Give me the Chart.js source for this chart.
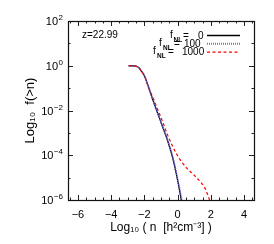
<!DOCTYPE html>
<html>
<head>
<meta charset="utf-8">
<script src="https://cdn.jsdelivr.net/npm/chart.js@4.4.1/dist/chart.umd.min.js"></script>
<style>
html,body{margin:0;padding:0;background:#fff;}
canvas{display:block;}
</style>
</head>
<body>
<canvas id="c" width="274" height="244"></canvas>
<script>
// log10(n) values and log10 f(>n) values
const xF0 = [-2.95, -2.7, -2.5, -2.35, -2.2, -2.0, -1.8, -1.5, -1.2, -0.9, -0.6, -0.3, -0.1, 0.05, 0.15, 0.22];
const yF0 = [0, 0, -0.02, -0.08, -0.22, -0.45, -0.85, -1.51, -2.12, -2.74, -3.35, -4.1, -4.75, -5.3, -5.7, -6.0];
const xF100 = [-2.95, -2.7, -2.5, -2.35, -2.2, -2.0, -1.8, -1.5, -1.2, -0.9, -0.6, -0.3, -0.1, 0.05, 0.15, 0.26];
const yF100 = [0, 0, -0.02, -0.08, -0.22, -0.45, -0.85, -1.5, -2.1, -2.72, -3.32, -4.05, -4.68, -5.22, -5.58, -6.0];
const xF1000 = [-2.95, -2.7, -2.5, -2.35, -2.2, -2.0, -1.8, -1.5, -1.2, -0.9, -0.6, -0.3, 0.0, 0.3, 0.6, 0.9, 1.2, 1.5, 1.7, 1.85, 1.95];
const yF1000 = [0, 0, -0.02, -0.08, -0.22, -0.45, -0.85, -1.4, -1.95, -2.5, -3.1, -3.6, -4.02, -4.35, -4.62, -4.82, -5.05, -5.3, -5.55, -5.85, -6.05];
const seriesNames = ['0', '100', '1000'];
const xMajorTicks = [-6, -4, -2, 0, 2, 4];
const yMajorTicks = [-6, -4, -2, 0, 2];
const redshiftLabel = 'z=22.99';

function pts(xs, ys){ return xs.map((x,i)=>({x:x, y:ys[i]})); }

const FONT = '"Liberation Sans", Arial, Helvetica, sans-serif';
// legend text offsets (from right edge of plot): f, NL, '=', number
const LEG_POS = [[84, 80.5, 71, 56], [95, 91, 80, 70], [101, 97, 86, 72]];

const decor = {
  id: 'decor',
  afterDatasetsDraw(chart){
    const ctx = chart.ctx, a = chart.chartArea;
    const xs = chart.scales.x, ys = chart.scales.y;
    ctx.save();
    ctx.strokeStyle = '#222';
    ctx.lineWidth = 1;
    // ticks inward on all sides
    for (let v = -6.5; v <= 4.5001; v += 0.5) {
      const px = Math.round(xs.getPixelForValue(v)) + 0.5;
      if (px < a.left || px > a.right) continue;
      const major = Math.abs(v / 2 - Math.round(v / 2)) < 1e-6;
      const len = major ? 5 : 2.5;
      ctx.beginPath();
      ctx.moveTo(px, a.bottom); ctx.lineTo(px, a.bottom - len);
      ctx.moveTo(px, a.top); ctx.lineTo(px, a.top + len);
      ctx.stroke();
    }
    for (let v = -6; v <= 2; v += 1) {
      const py = Math.round(ys.getPixelForValue(v)) + 0.5;
      const major = v % 2 === 0;
      const len = major ? 5 : 2.5;
      ctx.beginPath();
      ctx.moveTo(a.left, py); ctx.lineTo(a.left + len, py);
      ctx.moveTo(a.right, py); ctx.lineTo(a.right - len, py);
      ctx.stroke();
    }
    // frame
    ctx.lineWidth = 1.2;
    ctx.strokeStyle = '#111';
    ctx.strokeRect(Math.round(a.left) + 0.5, Math.round(a.top) + 0.5, Math.round(a.right - a.left), Math.round(a.bottom - a.top));
    // y tick labels with superscripts
    ctx.fillStyle = '#000';
    ctx.textBaseline = 'alphabetic';
    yMajorTicks.forEach(v => {
      const py = ys.getPixelForValue(v);
      const exp = (v < 0 ? '\u2212' : '') + Math.abs(v);
      ctx.font = '8px ' + FONT;
      const ew = ctx.measureText(exp).width;
      ctx.textAlign = 'right';
      const rx = a.left - 5;
      ctx.fillText(exp, rx, py - 1);
      ctx.font = '11px ' + FONT;
      ctx.fillText('10', rx - ew - 0.5, py + 4);
    });
    // redshift label
    ctx.font = '10px ' + FONT;
    ctx.textAlign = 'left';
    ctx.fillText(redshiftLabel, a.left + 14, a.top + 17);
    // legend
    const styles = chart.data.datasets;
    seriesNames.forEach((nm, i) => {
      const cy = a.top + 14 + i * 8.3;
      const p = LEG_POS[i];
      ctx.textAlign = 'left';
      ctx.font = '10px ' + FONT;
      ctx.fillText('f', a.right - p[0], cy + 2.5);
      ctx.fillText('=', a.right - p[2], cy + 3.5);
      ctx.fillText(nm, a.right - p[3], cy + 3.5);
      ctx.font = 'bold 6.5px ' + FONT;
      ctx.fillText('NL', a.right - p[1], cy + 6.5);
      const ds = styles[i];
      ctx.beginPath();
      ctx.strokeStyle = ds.borderColor;
      ctx.lineWidth = i === 1 ? 2 : ds.borderWidth;
      ctx.setLineDash(ds.borderDash || []);
      ctx.moveTo(a.right - 47, cy + 0.5);
      ctx.lineTo(a.right - 14, cy + 0.5);
      ctx.stroke();
      ctx.setLineDash([]);
    });
    ctx.restore();
  }
};

new Chart(document.getElementById('c'), {
  type: 'line',
  data: {
    datasets: [
      { label: 'fNL = ' + seriesNames[0], data: pts(xF0, yF0), borderColor: '#000', borderWidth: 1.3, pointRadius: 0, fill: false, cubicInterpolationMode: 'monotone', order: 3 },
      { label: 'fNL = ' + seriesNames[1], data: pts(xF100, yF100), borderColor: 'rgb(110,110,255)', borderWidth: 1.5, borderDash: [1, 1], pointRadius: 0, fill: false, cubicInterpolationMode: 'monotone', order: 2 },
      { label: 'fNL = ' + seriesNames[2], data: pts(xF1000, yF1000), borderColor: 'rgb(255,0,0)', borderWidth: 1.2, borderDash: [3, 2.5], pointRadius: 0, fill: false, cubicInterpolationMode: 'monotone', order: 1 }
    ]
  },
  options: {
    responsive: false,
    animation: false,
    devicePixelRatio: 1,
    layout: { padding: { left: 0, right: 20, top: 21, bottom: 0 } },
    plugins: { legend: { display: false }, tooltip: { enabled: false } },
    scales: {
      x: {
        type: 'linear', min: -6.6, max: 4.6,
        afterFit(s){ s.height = 44; },
        afterBuildTicks(s){ s.ticks = xMajorTicks.map(v => ({ value: v })); },
        grid: { display: false, drawTicks: false },
        border: { display: false },
        ticks: { color: '#000', font: { size: 11, family: FONT }, padding: 8, maxRotation: 0,
          callback: v => (v < 0 ? '\u2212' : '') + Math.abs(v) },
        title: { display: true, text: 'Log\u2081\u2080 ( n  [h\u00B2cm\u207B\u00B3] )', color: '#000', font: { size: 12, family: FONT }, padding: { top: 1, bottom: 9 } }
      },
      y: {
        type: 'linear', min: -6, max: 2,
        afterFit(s){ s.width = 68; },
        grid: { display: false, drawTicks: false },
        border: { display: false },
        ticks: { display: false },
        title: { display: true, text: 'Log\u2081\u2080  f(>n)', color: '#000', font: { size: 13, family: FONT }, padding: { top: 23, bottom: 0 } }
      }
    }
  },
  plugins: [decor]
});
</script>
</body>
</html>
